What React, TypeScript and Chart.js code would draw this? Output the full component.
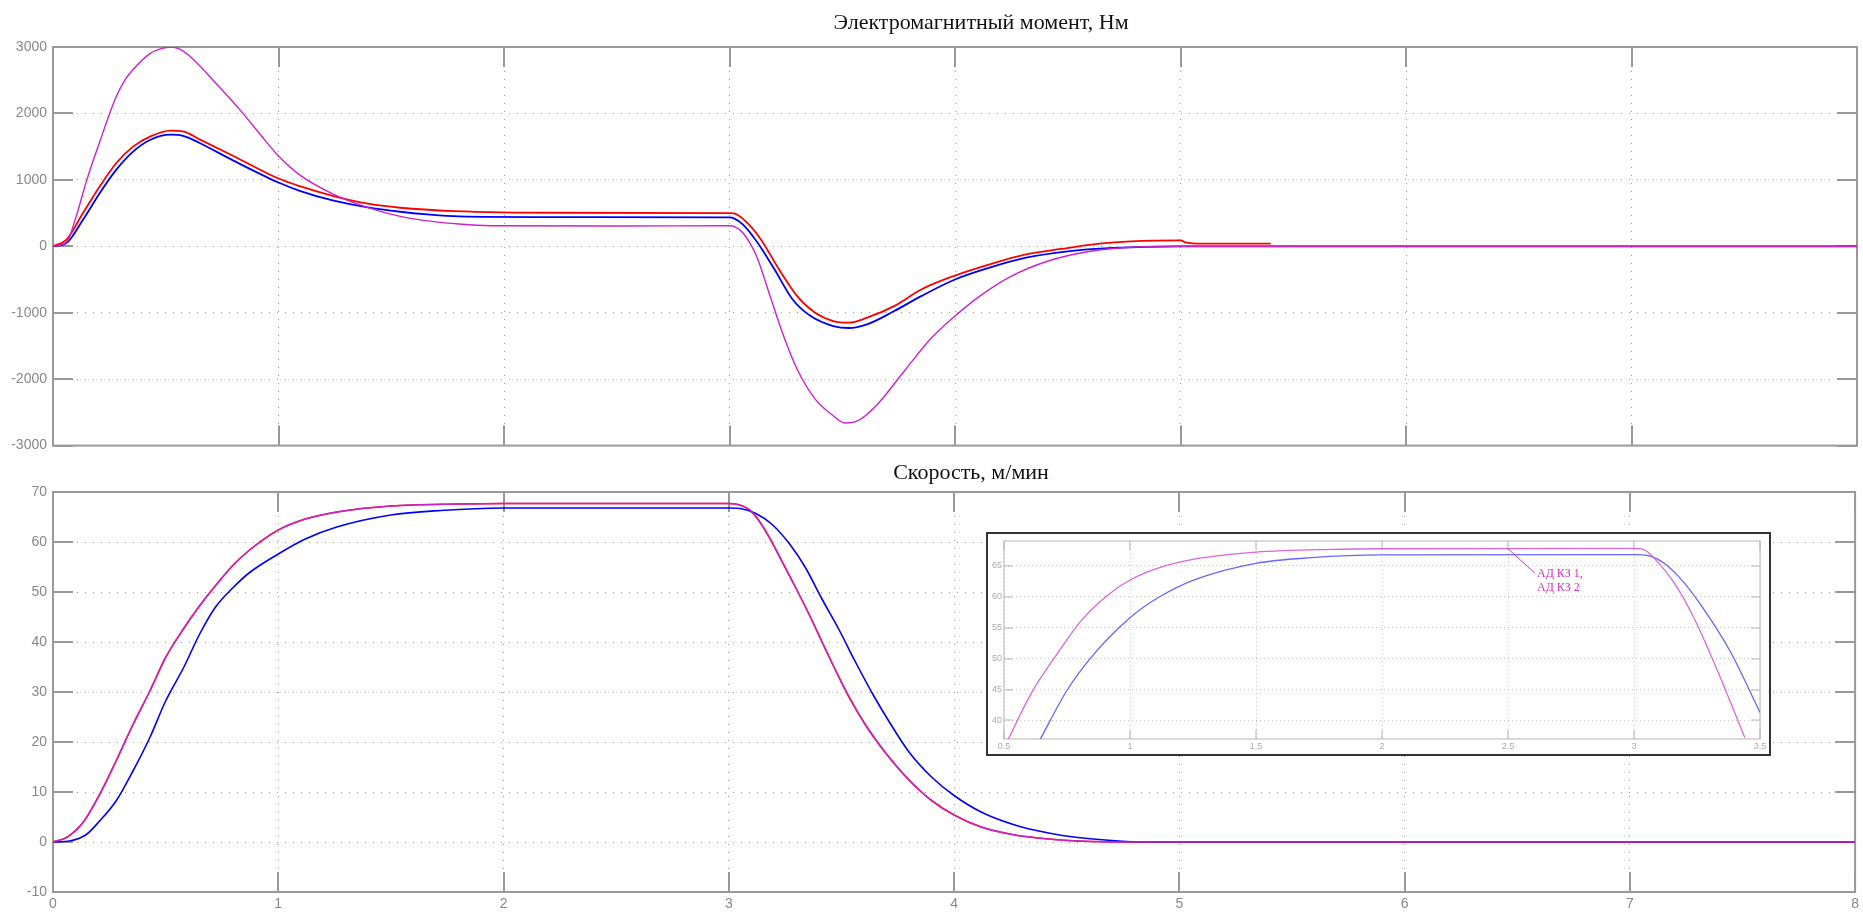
import React, { useEffect, useRef } from 'react';
import { Chart, registerables } from 'chart.js';

Chart.register(...registerables);

// ---------- tick values ----------
const timeTicks = [0, 1, 2, 3, 4, 5, 6, 7, 8];
const torqueTicks = [-3000, -2000, -1000, 0, 1000, 2000, 3000];
const speedTicks = [-10, 0, 10, 20, 30, 40, 50, 60, 70];
const insetTimeTicks = [0.5, 1, 1.5, 2, 2.5, 3, 3.5];
const insetSpeedTicks = [40, 45, 50, 55, 60, 65];

// ---------- texts ----------
const torqueTitle = 'Электромагнитный момент, Нм';
const speedTitle = 'Скорость, м/мин';
const insetLabel = ['АД КЗ 1,', 'АД КЗ 2'];

// ---------- torque (Nm) ----------
const torqueMagentaT = [0, 0.06, 0.1, 0.15, 0.21, 0.28, 0.32, 0.355, 0.43, 0.48, 0.52, 0.56, 0.62, 0.71, 0.83, 0.92, 1.0, 1.1, 1.24, 1.39, 1.54, 1.68, 1.8, 1.94, 2.5, 3.0, 3.02, 3.06, 3.12, 3.18, 3.24, 3.3, 3.38, 3.46, 3.51, 3.57, 3.65, 3.77, 3.89, 4.0, 4.11, 4.25, 4.41, 4.6, 4.8, 5.0, 8.0];
const torqueMagenta = [0, 60, 420, 1000, 1600, 2250, 2510, 2660, 2900, 2975, 3000, 2970, 2820, 2500, 2050, 1680, 1360, 1060, 790, 590, 450, 375, 335, 310, 305, 310, 300, 200, -150, -750, -1350, -1850, -2300, -2550, -2660, -2625, -2400, -1900, -1400, -1050, -750, -450, -225, -75, -10, 0, 0];

const torqueRedT = [0, 0.06, 0.133, 0.207, 0.28, 0.355, 0.43, 0.52, 0.58, 0.65, 0.8, 1.0, 1.094, 1.24, 1.39, 1.54, 1.78, 2.24, 3.0, 3.02, 3.08, 3.14, 3.22, 3.3, 3.38, 3.46, 3.53, 3.61, 3.73, 3.85, 4.0, 4.15, 4.31, 4.47, 4.64, 4.78, 5.0, 5.02, 5.1, 5.4];
const torqueRed = [0, 100, 500, 900, 1250, 1500, 1650, 1740, 1725, 1610, 1360, 1020, 905, 760, 645, 580, 530, 505, 500, 495, 350, 100, -350, -750, -1000, -1125, -1150, -1075, -900, -650, -440, -275, -125, -40, 40, 75, 90, 60, 40, 40];

const torqueBlueT = [0, 0.06, 0.133, 0.207, 0.28, 0.355, 0.43, 0.52, 0.58, 0.65, 0.8, 1.0, 1.094, 1.24, 1.39, 1.54, 1.66, 1.8, 2.2, 3.0, 3.02, 3.06, 3.12, 3.2, 3.28, 3.36, 3.46, 3.53, 3.61, 3.73, 3.85, 4.0, 4.15, 4.31, 4.5, 4.7, 5.0, 8.0];
const torqueBlue = [0, 50, 400, 800, 1150, 1425, 1600, 1680, 1660, 1555, 1290, 960, 835, 690, 590, 520, 480, 450, 440, 435, 420, 325, 75, -350, -800, -1050, -1200, -1230, -1175, -975, -750, -500, -325, -175, -75, -25, 0, 0];

// ---------- speed (m/min) ----------
const speedMagentaT = [0, 0.06, 0.133, 0.207, 0.28, 0.355, 0.43, 0.5, 0.58, 0.65, 0.72, 0.8, 0.87, 1.0, 1.12, 1.26, 1.5, 1.8, 2.0, 3.0, 3.03, 3.09, 3.13, 3.18, 3.24, 3.3, 3.36, 3.41, 3.47, 3.53, 3.61, 3.7, 3.8, 3.9, 4.0, 4.12, 4.27, 4.42, 4.55, 4.8, 8.0];
const speedMagenta = [0, 0.9, 3.9, 9.5, 16.2, 23.5, 30.2, 36.9, 42.7, 47.2, 51.2, 55.4, 58.3, 62.4, 64.6, 66.0, 67.2, 67.6, 67.7, 67.7, 67.6, 66.5, 64.5, 60.9, 55.8, 50.6, 45.2, 40.4, 34.7, 29.3, 23.2, 17.6, 12.4, 8.3, 5.4, 3.0, 1.4, 0.6, 0.2, 0, 0];

const speedBlueT = [0, 0.074, 0.148, 0.207, 0.28, 0.355, 0.43, 0.5, 0.58, 0.65, 0.72, 0.8, 0.87, 1.0, 1.12, 1.26, 1.5, 1.72, 2.0, 3.0, 3.05, 3.12, 3.19, 3.27, 3.34, 3.41, 3.49, 3.56, 3.64, 3.71, 3.8, 3.9, 4.0, 4.12, 4.27, 4.42, 4.55, 4.7, 4.85, 8.0];
const speedBlue = [0, 0.2, 1.5, 4.2, 8.2, 14.2, 20.9, 28.2, 34.9, 41.5, 46.9, 50.9, 53.8, 57.6, 60.6, 63.0, 65.4, 66.3, 66.8, 66.8, 66.7, 65.7, 63.6, 59.6, 54.9, 48.9, 42.4, 36.2, 29.5, 24.2, 18.0, 13.0, 9.3, 6.0, 3.4, 1.8, 0.9, 0.3, 0, 0];

// ---------- inset (zoomed speed) ----------
const insetMagentaT = [0.516, 0.607, 0.708, 0.81, 0.91, 1.0, 1.114, 1.26, 1.5, 1.8, 2.0, 3.0, 3.04, 3.08, 3.16, 3.24, 3.34, 3.44];
const insetMagenta = [36.9, 44.3, 50.6, 56.3, 60.2, 62.7, 64.65, 66.1, 67.2, 67.65, 67.75, 67.8, 67.6, 66.2, 62.2, 56.4, 47.2, 37.2];
const insetBlueT = [0.643, 0.749, 0.85, 1.0, 1.114, 1.26, 1.5, 1.72, 2.0, 3.0, 3.06, 3.12, 3.2, 3.28, 3.38, 3.5];
const insetBlue = [36.9, 44.8, 50.4, 56.6, 59.9, 62.8, 65.4, 66.3, 66.75, 66.8, 66.6, 65.4, 62.2, 57.8, 51.3, 41.3];
const insetLabelAnchor = { x: 2.5, y: 67.75 };
const insetLabelEnd = { x: 2.607, y: 63.8 };

const pts = (t: number[], v: number[]) => t.map((x, i) => ({ x, y: v[i] }));

const BLUE = '#0000ff';
const RED = '#ff0000';
const MAGENTA = '#cc22cc';

const framePlugin = {
  id: 'frame',
  beforeDatasetsDraw(chart: any, _a: any, o: any) {
    const { ctx, chartArea: a, scales } = chart;
    ctx.save();
    ctx.strokeStyle = o.color;
    ctx.lineWidth = o.width;
    ctx.beginPath();
    const xs = scales.x;
    const ys = scales.y;
    xs.ticks.forEach((t: any) => {
      const p = Math.round(xs.getPixelForValue(t.value));
      ctx.moveTo(p, a.bottom);
      ctx.lineTo(p, a.bottom - o.len);
      ctx.moveTo(p, a.top);
      ctx.lineTo(p, a.top + o.len);
    });
    ys.ticks.forEach((t: any) => {
      const p = Math.round(ys.getPixelForValue(t.value));
      ctx.moveTo(a.left, p);
      ctx.lineTo(a.left + o.len, p);
      ctx.moveTo(a.right, p);
      ctx.lineTo(a.right - o.len, p);
    });
    ctx.stroke();
    ctx.strokeRect(a.left, a.top, a.right - a.left, a.bottom - a.top);
    if (o.outer) {
      ctx.strokeStyle = o.outer;
      ctx.lineWidth = 2;
      ctx.strokeRect(1, 1, chart.width - 2, chart.height - 2);
    }
    ctx.restore();
  },
};

const captionPlugin = {
  id: 'caption',
  afterDraw(chart: any, _a: any, o: any) {
    if (!o || !o.text) return;
    const { ctx } = chart;
    ctx.save();
    ctx.font = o.font;
    ctx.fillStyle = o.color;
    ctx.textAlign = 'center';
    ctx.textBaseline = 'alphabetic';
    ctx.fillText(o.text, o.x, o.y);
    ctx.restore();
  },
};

const calloutPlugin = {
  id: 'callout',
  afterDatasetsDraw(chart: any, _a: any, o: any) {
    if (!o || !o.lines) return;
    const { ctx, scales } = chart;
    const x1 = scales.x.getPixelForValue(o.anchor.x);
    const y1 = scales.y.getPixelForValue(o.anchor.y);
    const x2 = scales.x.getPixelForValue(o.end.x);
    const y2 = scales.y.getPixelForValue(o.end.y);
    ctx.save();
    ctx.strokeStyle = o.color;
    ctx.lineWidth = 1;
    ctx.beginPath();
    ctx.moveTo(x1, y1);
    ctx.lineTo(x2, y2);
    ctx.stroke();
    ctx.font = o.font;
    ctx.fillStyle = o.color;
    ctx.textAlign = 'left';
    ctx.textBaseline = 'alphabetic';
    o.lines.forEach((s: string, i: number) => ctx.fillText(s, x2 + 2, y2 + 4 + i * 14));
    ctx.restore();
  },
};

function axis(min: number, max: number, ticks: number[], o: any) {
  return {
    type: 'linear',
    min,
    max,
    afterBuildTicks: (s: any) => {
      s.ticks = ticks.map((v) => ({ value: v }));
    },
    afterFit: (s: any) => {
      if (o.width !== undefined) s.width = o.width;
      if (o.height !== undefined) s.height = o.height;
    },
    grid: { color: o.gridColor, lineWidth: 1, drawTicks: false },
    border: { display: false, dash: o.dash },
    ticks: {
      display: o.labels,
      color: o.labelColor,
      font: { family: "'Liberation Sans', Arial, sans-serif", size: o.fontSize },
      padding: o.padding,
      autoSkip: false,
      maxRotation: 0,
      callback: (v: any) => String(v),
    },
  };
}

const line = (data: any[], color: string, width: number) => ({
  data,
  borderColor: color,
  backgroundColor: color,
  borderWidth: width,
  pointRadius: 0,
  cubicInterpolationMode: 'monotone',
  fill: false,
});

const TITLE_FONT = "22px 'Liberation Serif', 'Times New Roman', serif";

export default function App() {
  const topRef = useRef<HTMLCanvasElement>(null);
  const botRef = useRef<HTMLCanvasElement>(null);
  const insRef = useRef<HTMLCanvasElement>(null);

  useEffect(() => {
    const common = {
      responsive: false,
      animation: false,
      events: [],
    };
    const top = new Chart(topRef.current as HTMLCanvasElement, {
      type: 'line',
      data: {
        datasets: [
          line(pts(torqueMagentaT, torqueMagenta), MAGENTA, 1.4),
          line(pts(torqueRedT, torqueRed), RED, 1.8),
          line(pts(torqueBlueT, torqueBlue), BLUE, 1.8),
        ],
      },
      options: {
        ...common,
        layout: { padding: { top: 47, right: 6, bottom: 13, left: 0 } },
        scales: {
          x: axis(0, 8, timeTicks, { height: 0, labels: false, gridColor: '#9a9a9a', dash: [1, 7], labelColor: '#888', fontSize: 14, padding: 5 }),
          y: axis(-3000, 3000, torqueTicks, { width: 53, labels: true, gridColor: '#9a9a9a', dash: [1, 7], labelColor: '#888', fontSize: 14, padding: 6 }),
        },
        plugins: {
          legend: { display: false },
          tooltip: { enabled: false },
          frame: { color: '#999', width: 2, len: 20 },
          caption: { text: torqueTitle, x: 981, y: 29, font: TITLE_FONT, color: '#111' },
        },
      } as any,
      plugins: [framePlugin, captionPlugin],
    } as any);

    const bot = new Chart(botRef.current as HTMLCanvasElement, {
      type: 'line',
      data: {
        datasets: [
          line(pts(speedMagentaT, speedMagenta), MAGENTA, 1.4),
          line(pts(speedBlueT, speedBlue), BLUE, 1.6),
          line(pts(speedMagentaT, speedMagenta), RED, 1.6),
        ],
      },
      options: {
        ...common,
        layout: { padding: { top: 32, right: 6, bottom: 0, left: 0 } },
        scales: {
          x: axis(0, 8, timeTicks, { height: 22, labels: true, gridColor: '#9a9a9a', dash: [1, 7], labelColor: '#888', fontSize: 14, padding: 4 }),
          y: axis(-10, 70, speedTicks, { width: 53, labels: true, gridColor: '#9a9a9a', dash: [1, 7], labelColor: '#888', fontSize: 14, padding: 6 }),
        },
        plugins: {
          legend: { display: false },
          tooltip: { enabled: false },
          frame: { color: '#999', width: 2, len: 20 },
          caption: { text: speedTitle, x: 971, y: 19, font: TITLE_FONT, color: '#111' },
        },
      } as any,
      plugins: [framePlugin, captionPlugin],
    } as any);

    const ins = new Chart(insRef.current as HTMLCanvasElement, {
      type: 'line',
      data: {
        datasets: [
          line(pts(insetMagentaT, insetMagenta), '#dd66dd', 1.3),
          line(pts(insetBlueT, insetBlue), '#6666ff', 1.3),
        ],
      },
      options: {
        ...common,
        layout: { padding: { top: 9, right: 11, bottom: 0, left: 0 } },
        scales: {
          x: axis(0.5, 3.5, insetTimeTicks, { height: 17, labels: true, gridColor: '#c4c4c4', dash: [1, 3], labelColor: '#aaa', fontSize: 9, padding: 2 }),
          y: axis(37, 69, insetSpeedTicks, { width: 18, labels: true, gridColor: '#c4c4c4', dash: [1, 3], labelColor: '#aaa', fontSize: 9, padding: 2 }),
        },
        plugins: {
          legend: { display: false },
          tooltip: { enabled: false },
          frame: { color: '#b5b5b5', width: 1, len: 9, outer: '#333' },
          callout: {
            anchor: insetLabelAnchor,
            end: insetLabelEnd,
            lines: insetLabel,
            color: '#cc33cc',
            font: "12px 'Liberation Serif', 'Times New Roman', serif",
          },
        },
      } as any,
      plugins: [framePlugin, calloutPlugin],
    } as any);

    return () => {
      top.destroy();
      bot.destroy();
      ins.destroy();
    };
  }, []);

  return (
    <div style={{ position: 'fixed', left: 0, top: 0, width: 1863, height: 914, background: '#fff', overflow: 'hidden' }}>
      <canvas ref={topRef} width={1863} height={460} style={{ position: 'absolute', left: 0, top: 0, display: 'block' }} />
      <canvas ref={botRef} width={1863} height={454} style={{ position: 'absolute', left: 0, top: 460, display: 'block' }} />
      <canvas ref={insRef} width={785} height={224} style={{ position: 'absolute', left: 986, top: 532, display: 'block', background: '#fff' }} />
    </div>
  );
}
